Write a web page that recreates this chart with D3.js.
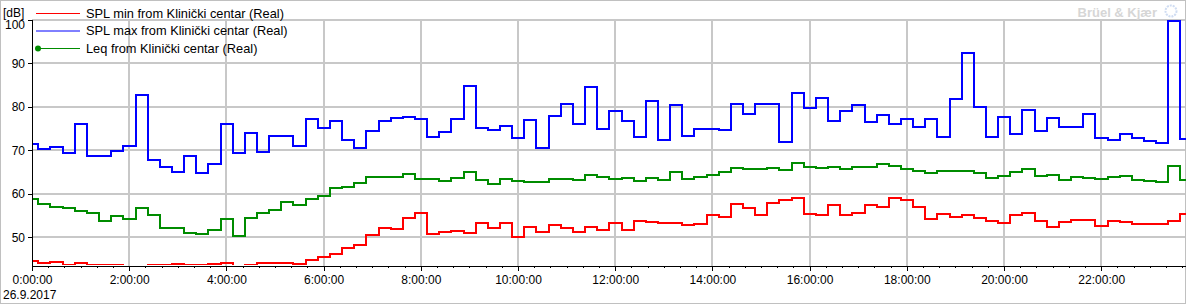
<!DOCTYPE html>
<html>
<head>
<meta charset="utf-8">
<script src="https://cdn.jsdelivr.net/npm/d3@7"></script>
<style>
    html, body { margin: 0; padding: 0; background: #fff; }
    svg { display: block; font-family: "Liberation Sans", Arial, sans-serif; }
    .axis path, .axis line { stroke: #000; shape-rendering: crispEdges; }
    .axis text { fill: #000; font-size: 12px; font-family: "Liberation Sans", Arial, sans-serif; }
    .grid line { stroke: #c8c8c8; stroke-width: 2; shape-rendering: crispEdges; }
</style>
</head>
<body>
<div id="chart"></div>
<script>
// legend entries
const seriesNames = [
    'SPL min from Klinički centar (Real)',
    'SPL max from Klinički centar (Real)',
    'Leq from Klinički centar (Real)'
];
const seriesColors = ['#ff0000', '#0000ff', '#008c00'];

// 15 minute values, first step starts before midnight and is clipped
const firstStepStart = Date.UTC(2017, 8, 25, 23, 52, 47);
const stepMinutes = 15;

const splMin = [
    44.5, 44.0, 44.3, 43.6, 44.0, 43.6, 43.6, 43.6, 42.5, 42.5,
    43.6, 43.6, 43.8, 43.6, 43.6, 43.8, 44.0, 42.5, 43.6, 44.0,
    44.0, 44.0, 43.8, 44.7, 45.4, 46.2, 47.5, 48.2, 50.6, 52.1,
    51.8, 54.4, 55.6, 50.7, 51.2, 51.4, 51.0, 53.4, 52.1, 53.2,
    50.0, 52.3, 51.2, 52.8, 52.1, 51.2, 52.3, 51.7, 53.2, 51.7,
    53.7, 53.5, 53.2, 53.2, 52.8, 53.0, 55.1, 54.6, 57.6, 56.7,
    55.1, 57.8, 58.5, 59.0, 55.3, 55.1, 57.4, 55.1, 55.6, 57.4,
    56.9, 59.0, 58.5, 56.9, 54.1, 55.3, 54.6, 55.1, 54.4, 53.7,
    53.2, 55.1, 55.6, 53.7, 52.3, 53.5, 54.0, 54.0, 52.5, 53.7,
    53.5, 53.0, 53.0, 53.0, 53.7, 55.4
];

const splMax = [
    71.4, 70.2, 70.7, 69.3, 76.0, 68.8, 68.6, 69.8, 71.1, 82.7,
    67.8, 66.1, 64.9, 68.6, 64.7, 66.8, 76.0, 69.3, 73.9, 69.6,
    73.2, 73.4, 71.0, 77.1, 75.1, 76.7, 72.4, 70.5, 74.4, 76.7,
    77.4, 77.6, 77.1, 73.0, 74.2, 77.1, 84.8, 75.1, 74.6, 75.5,
    72.8, 76.9, 70.5, 77.8, 80.6, 76.0, 84.5, 74.8, 79.0, 76.7,
    73.0, 81.3, 72.3, 80.3, 73.2, 74.8, 74.8, 74.6, 80.6, 78.3,
    80.6, 80.6, 71.9, 83.2, 79.7, 82.0, 76.7, 79.0, 80.3, 76.4,
    78.0, 76.0, 77.1, 75.3, 77.1, 73.1, 81.7, 92.3, 80.0, 73.1,
    77.7, 73.7, 79.2, 74.4, 77.5, 75.3, 75.3, 78.3, 72.8, 72.3,
    73.7, 72.8, 72.1, 71.6, 99.8, 72.5
];

const leq = [
    58.7, 57.6, 56.9, 56.7, 56.0, 55.6, 53.7, 54.8, 54.2, 56.7,
    55.1, 52.1, 52.1, 50.9, 50.7, 51.7, 54.2, 50.2, 54.4, 55.6,
    56.3, 58.0, 57.4, 58.7, 59.4, 61.3, 61.5, 62.5, 63.8, 63.8,
    63.8, 64.6, 63.4, 63.3, 62.9, 63.6, 64.9, 63.1, 62.2, 63.3,
    62.9, 62.6, 62.6, 63.3, 63.3, 63.1, 64.3, 63.8, 63.3, 63.6,
    62.9, 63.6, 63.1, 64.9, 63.3, 63.8, 64.3, 64.9, 65.9, 65.6,
    65.6, 65.9, 65.4, 67.0, 66.2, 65.9, 66.2, 65.6, 66.2, 66.2,
    66.8, 66.4, 65.6, 65.2, 64.7, 65.2, 65.2, 65.2, 64.7, 63.6,
    64.0, 64.9, 65.6, 64.0, 64.3, 63.1, 63.8, 63.6, 63.3, 63.8,
    64.0, 63.1, 62.9, 62.6, 66.3, 63.1
];

const yTicks = [50, 60, 70, 80, 90, 100];
const xTickHours = [0, 2, 4, 6, 8, 10, 12, 14, 16, 18, 20, 22];
const dateLabel = '26.9.2017';
const unitLabel = '[dB]';
const watermark = 'Brüel & Kjær';

const chart = {
    width: 1186,
    height: 305,
    plot: { left: 32, right: 1185, top: 20, bottom: 266 }
};

const dayStart = Date.UTC(2017, 8, 26, 0, 0, 0);
const dayEnd = Date.UTC(2017, 8, 26, 23, 43, 27);

const { plot } = chart;

const svg = d3.select('#chart')
    .append('svg')
    .attr('width', chart.width)
    .attr('height', chart.height);

// outer frame
svg.append('rect')
    .attr('x', 0.5).attr('y', 0.5)
    .attr('width', chart.width - 1).attr('height', 303)
    .attr('fill', '#fff')
    .attr('stroke', '#c0c0c0');

const x = d3.scaleUtc()
    .domain([new Date(dayStart), new Date(dayEnd)])
    .range([plot.left, plot.right]);

const y = d3.scaleLinear()
    .domain([43.4, 100])
    .range([plot.bottom, 19.8]);

// grid
const xTickDates = xTickHours.map(h => new Date(dayStart + h * 3600e3));

svg.append('g')
    .attr('class', 'grid')
    .selectAll('line')
    .data(xTickDates.slice(1))
    .join('line')
    .attr('x1', d => Math.round(x(d)))
    .attr('x2', d => Math.round(x(d)))
    .attr('y1', plot.top)
    .attr('y2', plot.bottom);

svg.append('g')
    .attr('class', 'grid')
    .selectAll('line')
    .data(yTicks)
    .join('line')
    .attr('x1', plot.left)
    .attr('x2', plot.right)
    .attr('y1', d => Math.round(y(d)))
    .attr('y2', d => Math.round(y(d)));

// watermark
svg.append('text')
    .attr('x', 1157)
    .attr('y', 17)
    .attr('text-anchor', 'end')
    .attr('font-size', 13)
    .attr('font-weight', 'bold')
    .attr('fill', '#d6d6d6')
    .text(watermark);

svg.append('circle')
    .attr('cx', 1171).attr('cy', 11).attr('r', 5.5)
    .attr('fill', 'none')
    .attr('stroke', '#cfdcf2')
    .attr('stroke-width', 2)
    .attr('stroke-dasharray', '2 1');

// series
svg.append('clipPath')
    .attr('id', 'plot-clip')
    .append('rect')
    .attr('x', plot.left)
    .attr('y', plot.top - 2)
    .attr('width', plot.right - plot.left + 1)
    .attr('height', plot.bottom - plot.top + 1);

const toSteps = values => {
    const pts = values.map((v, i) => ({ t: new Date(firstStepStart + i * stepMinutes * 60e3), v }));
    const last = values[values.length - 1];
    pts.push({ t: new Date(firstStepStart + values.length * stepMinutes * 60e3), v: last });
    return pts;
};

// pixel-snapped steps, the source draws them crisp
const line = d3.line()
    .curve(d3.curveStepAfter)
    .x(d => Math.round(x(d.t)))
    .y(d => Math.round(y(d.v)));

const series = [splMin, splMax, leq];

svg.append('g')
    .attr('clip-path', 'url(#plot-clip)')
    .selectAll('path')
    .data(series)
    .join('path')
    .attr('d', d => line(toSteps(d)))
    .attr('fill', 'none')
    .attr('stroke', (d, i) => seriesColors[i])
    .attr('stroke-width', 2)
    .attr('stroke-linejoin', 'miter')
    .attr('shape-rendering', 'crispEdges');

// y axis
const yAxis = d3.axisLeft(y)
    .tickValues(yTicks)
    .tickSize(4)
    .tickPadding(3)
    .tickSizeOuter(0);

const yAxisG = svg.append('g')
    .attr('class', 'axis')
    .attr('transform', `translate(${plot.left},0)`)
    .call(yAxis);

// top label sits just under the frame
yAxisG.selectAll('.tick')
    .filter(d => d === 100)
    .select('text')
    .attr('dy', '0.75em');

// x axis, major + minor ticks
const xAxis = d3.axisBottom(x)
    .tickValues(xTickDates)
    .tickSize(5)
    .tickPadding(4)
    .tickSizeOuter(0)
    .tickFormat(d => `${d.getUTCHours()}:00:00`);

svg.append('g')
    .attr('class', 'axis')
    .attr('transform', `translate(0,${plot.bottom})`)
    .call(xAxis);

const xMinor = d3.axisBottom(x)
    .ticks(d3.utcMinute.every(20))
    .tickSize(2)
    .tickSizeOuter(0)
    .tickFormat('');

svg.append('g')
    .attr('class', 'axis')
    .attr('transform', `translate(0,${plot.bottom})`)
    .call(xMinor);

svg.append('text')
    .attr('x', 3)
    .attr('y', 299)
    .attr('font-size', 12)
    .text(dateLabel);

svg.append('text')
    .attr('x', 3)
    .attr('y', 17)
    .attr('font-size', 12)
    .text(unitLabel);

// legend
const legend = svg.append('g')
    .selectAll('g')
    .data(seriesNames)
    .join('g')
    .attr('transform', (d, i) => `translate(36,${13.5 + i * 17.5})`);

legend.append('line')
    .attr('x1', 0).attr('x2', 44)
    .attr('stroke', (d, i) => seriesColors[i])
    .attr('stroke-width', 1);

legend.filter((d, i) => i === 2)
    .append('circle')
    .attr('cx', 2).attr('r', 3)
    .attr('fill', seriesColors[2]);

legend.append('text')
    .attr('x', 50)
    .attr('y', 4)
    .attr('font-size', 12.8)
    .text(d => d);
</script>
</body>
</html>
